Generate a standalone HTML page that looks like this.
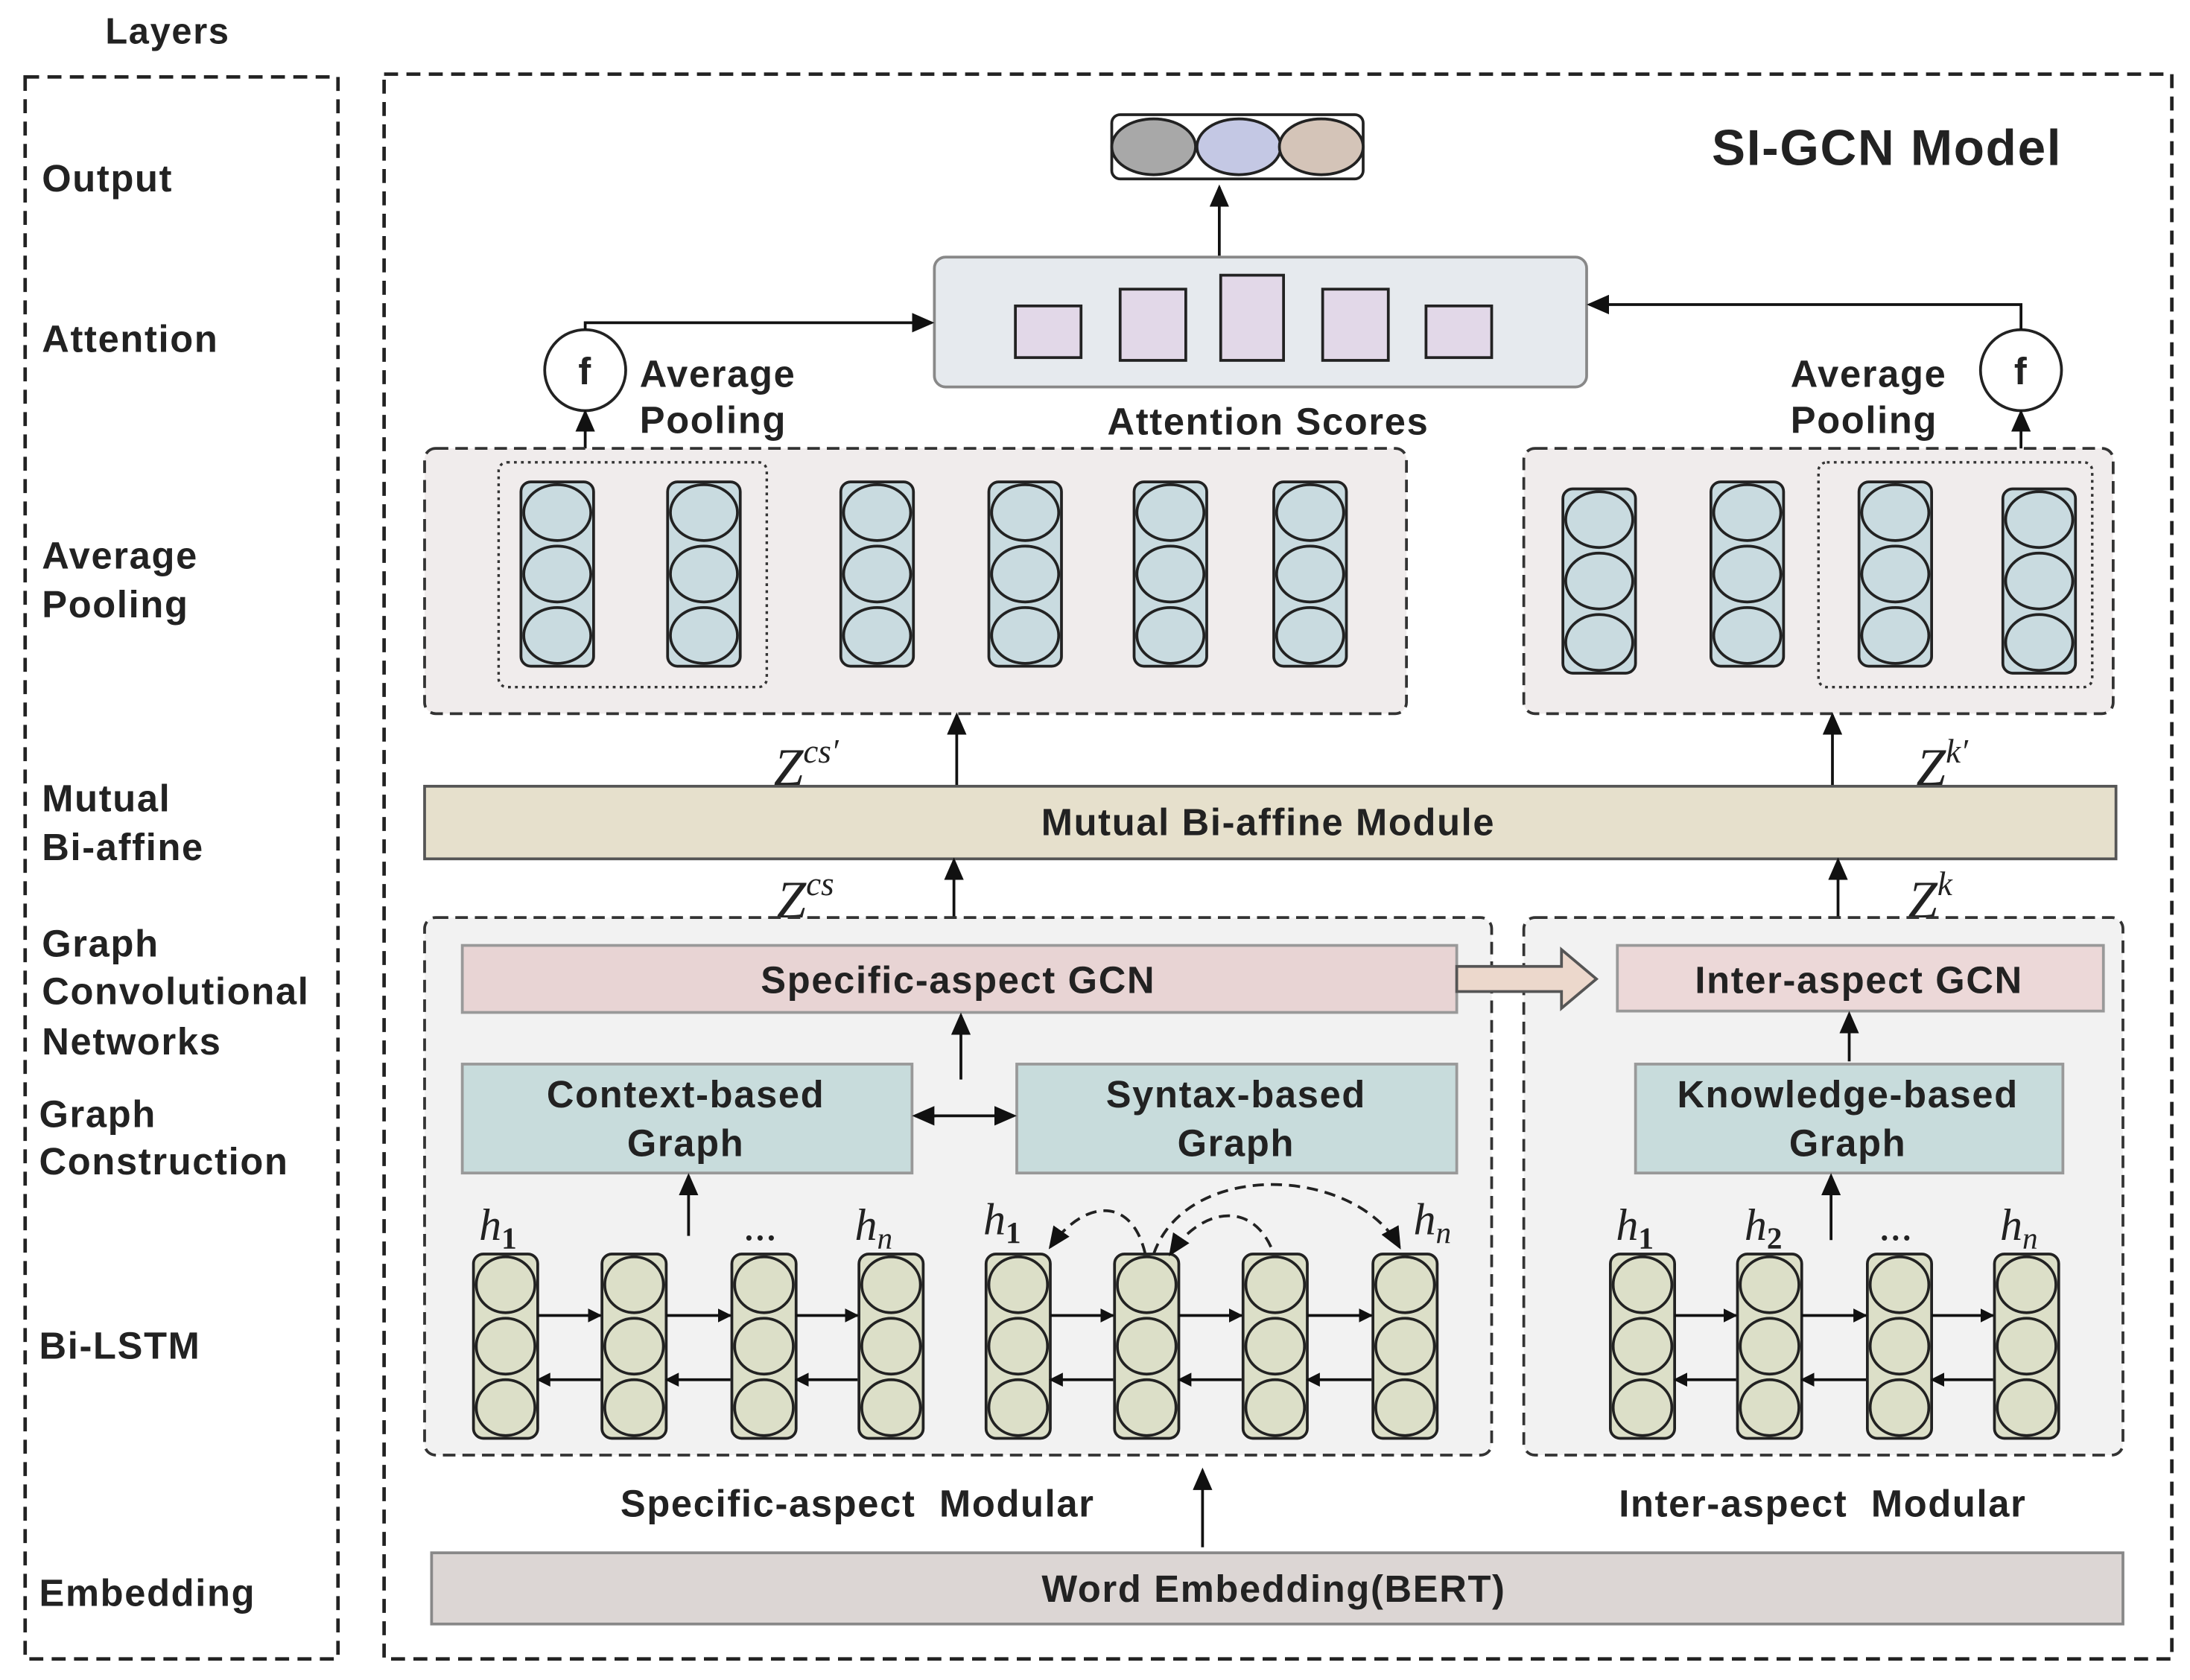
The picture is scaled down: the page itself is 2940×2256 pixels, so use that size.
<!DOCTYPE html>
<html><head><meta charset="utf-8">
<style>
html,body{margin:0;padding:0;background:#fff;}
svg{display:block;}
text{font-family:"Liberation Sans","Noto Sans CJK SC",sans-serif;font-weight:bold;fill:#222;letter-spacing:0.9px;}
.it, g.it text{font-family:"Liberation Serif",serif;font-style:italic;font-weight:normal;letter-spacing:0;}
</style></head><body>
<svg width="2940" height="2256" viewBox="0 0 1568 1203" xmlns="http://www.w3.org/2000/svg">
<defs>
<marker id="ah" markerWidth="10" markerHeight="10" refX="9" refY="5" orient="auto" markerUnits="userSpaceOnUse">
<path d="M0,0 L10,5 L0,10 z" fill="#111"/></marker>
<marker id="ah2" markerWidth="16" markerHeight="14" refX="14" refY="7" orient="auto" markerUnits="userSpaceOnUse">
<path d="M0,0 L16,7 L0,14 z" fill="#111"/></marker>
<g id="pc">
<rect x="-26" y="0" width="52" height="132" rx="7" fill="#c9dbe0" stroke="#222" stroke-width="2"/>
<ellipse cx="0" cy="22" rx="24" ry="20" fill="#c9dbe0" stroke="#222" stroke-width="2"/>
<ellipse cx="0" cy="66" rx="24" ry="20" fill="#c9dbe0" stroke="#222" stroke-width="2"/>
<ellipse cx="0" cy="110" rx="24" ry="20" fill="#c9dbe0" stroke="#222" stroke-width="2"/>
</g>
<g id="lc">
<rect x="-23" y="0" width="46" height="132" rx="7" fill="#dcdfc8" stroke="#222" stroke-width="2"/>
<ellipse cx="0" cy="22" rx="21" ry="20" fill="#dcdfc8" stroke="#222" stroke-width="2"/>
<ellipse cx="0" cy="66" rx="21" ry="20" fill="#dcdfc8" stroke="#222" stroke-width="2"/>
<ellipse cx="0" cy="110" rx="21" ry="20" fill="#dcdfc8" stroke="#222" stroke-width="2"/>
</g>
</defs>

<text x="120" y="31" font-size="26" text-anchor="middle">Layers</text>
<rect x="18" y="55" width="224" height="1133" fill="none" stroke="#222" stroke-width="2.5" stroke-dasharray="10,6"/>
<rect x="275" y="53" width="1280" height="1135" fill="none" stroke="#222" stroke-width="2.5" stroke-dasharray="10,6"/>
<g font-size="27">
<text x="30" y="137">Output</text>
<text x="30" y="252">Attention</text>
<text x="30" y="407">Average</text><text x="30" y="442">Pooling</text>
<text x="30" y="581">Mutual</text><text x="30" y="616">Bi-affine</text>
<text x="30" y="685">Graph</text><text x="30" y="719">Convolutional</text><text x="30" y="755">Networks</text>
<text x="28" y="807">Graph</text><text x="28" y="841">Construction</text>
<text x="28" y="973">Bi-LSTM</text>
<text x="28" y="1150">Embedding</text>
</g>
<text x="1351" y="118" font-size="36" text-anchor="middle">SI-GCN Model</text>

<rect x="796" y="82" width="180" height="46" rx="6" fill="#fff" stroke="#222" stroke-width="2"/>
<ellipse cx="826" cy="105" rx="30" ry="20" fill="#a8a8a8" stroke="#222" stroke-width="2"/>
<ellipse cx="887" cy="105" rx="30" ry="20" fill="#c4c8e4" stroke="#222" stroke-width="2"/>
<ellipse cx="946" cy="105" rx="30" ry="20" fill="#d4c4b8" stroke="#222" stroke-width="2"/>
<line x1="873" y1="183" x2="873" y2="134" stroke="#111" stroke-width="2" marker-end="url(#ah2)"/>

<rect x="669" y="184" width="467" height="93" rx="8" fill="#e6eaee" stroke="#888" stroke-width="2"/>
<g fill="#e2d8e8" stroke="#222" stroke-width="2">
<rect x="727" y="219" width="47" height="37"/><rect x="802" y="207" width="47" height="51"/>
<rect x="874" y="197" width="45" height="61"/><rect x="947" y="207" width="47" height="51"/>
<rect x="1021" y="219" width="47" height="37"/></g>
<text x="908" y="311" font-size="27" text-anchor="middle">Attention Scores</text>

<circle cx="419" cy="265" r="29" fill="#fff" stroke="#222" stroke-width="2"/>
<text x="419" y="275" font-size="27" text-anchor="middle">f</text>
<circle cx="1447" cy="265" r="29" fill="#fff" stroke="#222" stroke-width="2"/>
<text x="1447" y="275" font-size="27" text-anchor="middle">f</text>
<polyline points="419,236 419,231 667,231" fill="none" stroke="#111" stroke-width="2" marker-end="url(#ah2)"/>
<polyline points="1447,236 1447,218 1138,218" fill="none" stroke="#111" stroke-width="2" marker-end="url(#ah2)"/>
<line x1="419" y1="331" x2="419" y2="295" stroke="#111" stroke-width="2" marker-end="url(#ah2)"/>
<line x1="1447" y1="331" x2="1447" y2="295" stroke="#111" stroke-width="2" marker-end="url(#ah2)"/>
<text x="458" y="277" font-size="27">Average</text><text x="458" y="310" font-size="27">Pooling</text>
<text x="1282" y="277" font-size="27">Average</text><text x="1282" y="310" font-size="27">Pooling</text>

<rect x="304" y="321" width="703" height="190" rx="8" fill="#f0ecec" stroke="#333" stroke-width="2" stroke-dasharray="9,5"/>
<rect x="357" y="331" width="192" height="161" rx="6" fill="none" stroke="#333" stroke-width="1.8" stroke-dasharray="2,3"/>
<use href="#pc" x="399" y="345"/><use href="#pc" x="504" y="345"/><use href="#pc" x="628" y="345"/>
<use href="#pc" x="734" y="345"/><use href="#pc" x="838" y="345"/><use href="#pc" x="938" y="345"/>
<rect x="1091" y="321" width="422" height="190" rx="8" fill="#f0ecec" stroke="#333" stroke-width="2" stroke-dasharray="9,5"/>
<rect x="1302" y="331" width="196" height="161" rx="6" fill="none" stroke="#333" stroke-width="1.8" stroke-dasharray="2,3"/>
<use href="#pc" x="1145" y="350"/><use href="#pc" x="1251" y="345"/><use href="#pc" x="1357" y="345"/><use href="#pc" x="1460" y="350"/>

<line x1="685" y1="562" x2="685" y2="512" stroke="#111" stroke-width="2" marker-end="url(#ah2)"/>
<line x1="1312" y1="562" x2="1312" y2="512" stroke="#111" stroke-width="2" marker-end="url(#ah2)"/>
<text x="554" y="562" font-size="38" class="it">Z<tspan font-size="24" dy="-16">cs′</tspan></text>
<text x="1372" y="562" font-size="38" class="it">Z<tspan font-size="24" dy="-16">k′</tspan></text>

<rect x="304" y="563" width="1211" height="52" fill="#e6e0cc" stroke="#555" stroke-width="2"/>
<text x="908" y="598" font-size="27" text-anchor="middle">Mutual Bi-affine Module</text>

<line x1="683" y1="657" x2="683" y2="616" stroke="#111" stroke-width="2" marker-end="url(#ah2)"/>
<line x1="1316" y1="657" x2="1316" y2="616" stroke="#111" stroke-width="2" marker-end="url(#ah2)"/>
<text x="556" y="657" font-size="38" class="it">Z<tspan font-size="24" dy="-16">cs</tspan></text>
<text x="1366" y="657" font-size="38" class="it">Z<tspan font-size="24" dy="-16">k</tspan></text>

<rect x="304" y="657" width="764" height="385" rx="8" fill="#f2f2f2" stroke="#333" stroke-width="2" stroke-dasharray="9,5"/>
<rect x="1091" y="657" width="429" height="385" rx="8" fill="#f2f2f2" stroke="#333" stroke-width="2" stroke-dasharray="9,5"/>
<rect x="331" y="677" width="712" height="48" fill="#e8d4d4" stroke="#999" stroke-width="2"/>
<text x="686" y="711" font-size="27" text-anchor="middle">Specific-aspect GCN</text>
<rect x="1158" y="677" width="348" height="47" fill="#ecd8d8" stroke="#999" stroke-width="2"/>
<text x="1331" y="711" font-size="27" text-anchor="middle">Inter-aspect GCN</text>
<path d="M1043,692 L1118,692 L1118,680 L1143,701 L1118,722 L1118,710 L1043,710 z" fill="#ecd8cc" stroke="#555" stroke-width="2"/>

<line x1="688" y1="773" x2="688" y2="727" stroke="#111" stroke-width="2" marker-end="url(#ah2)"/>
<line x1="1324" y1="760" x2="1324" y2="726" stroke="#111" stroke-width="2" marker-end="url(#ah2)"/>

<rect x="331" y="762" width="322" height="78" fill="#c8dcdc" stroke="#999" stroke-width="2"/>
<text x="491" y="793" font-size="27" text-anchor="middle">Context-based</text><text x="491" y="828" font-size="27" text-anchor="middle">Graph</text>
<rect x="728" y="762" width="315" height="78" fill="#c8dcdc" stroke="#999" stroke-width="2"/>
<text x="885" y="793" font-size="27" text-anchor="middle">Syntax-based</text><text x="885" y="828" font-size="27" text-anchor="middle">Graph</text>
<rect x="1171" y="762" width="306" height="78" fill="#c8dcdc" stroke="#999" stroke-width="2"/>
<text x="1323" y="793" font-size="27" text-anchor="middle">Knowledge-based</text><text x="1323" y="828" font-size="27" text-anchor="middle">Graph</text>
<line x1="670" y1="799" x2="655" y2="799" stroke="#111" stroke-width="2" marker-end="url(#ah2)"/>
<line x1="660" y1="799" x2="726" y2="799" stroke="#111" stroke-width="2" marker-end="url(#ah2)"/>
<line x1="493" y1="885" x2="493" y2="842" stroke="#111" stroke-width="2" marker-end="url(#ah2)"/>
<line x1="1311" y1="888" x2="1311" y2="842" stroke="#111" stroke-width="2" marker-end="url(#ah2)"/>

<use href="#lc" x="362" y="898"/><use href="#lc" x="454" y="898"/><use href="#lc" x="547" y="898"/><use href="#lc" x="638" y="898"/>
<use href="#lc" x="729" y="898"/><use href="#lc" x="821" y="898"/><use href="#lc" x="913" y="898"/><use href="#lc" x="1006" y="898"/>
<use href="#lc" x="1176" y="898"/><use href="#lc" x="1267" y="898"/><use href="#lc" x="1360" y="898"/><use href="#lc" x="1451" y="898"/>
<g stroke="#111" stroke-width="2">
<line x1="385" y1="942" x2="430" y2="942" marker-end="url(#ah)"/><line x1="477" y1="942" x2="523" y2="942" marker-end="url(#ah)"/><line x1="570" y1="942" x2="614" y2="942" marker-end="url(#ah)"/>
<line x1="430" y1="988" x2="385" y2="988" marker-end="url(#ah)"/><line x1="523" y1="988" x2="477" y2="988" marker-end="url(#ah)"/><line x1="614" y1="988" x2="570" y2="988" marker-end="url(#ah)"/>
<line x1="752" y1="942" x2="797" y2="942" marker-end="url(#ah)"/><line x1="844" y1="942" x2="889" y2="942" marker-end="url(#ah)"/><line x1="936" y1="942" x2="982" y2="942" marker-end="url(#ah)"/>
<line x1="797" y1="988" x2="752" y2="988" marker-end="url(#ah)"/><line x1="889" y1="988" x2="844" y2="988" marker-end="url(#ah)"/><line x1="982" y1="988" x2="936" y2="988" marker-end="url(#ah)"/>
<line x1="1199" y1="942" x2="1243" y2="942" marker-end="url(#ah)"/><line x1="1290" y1="942" x2="1336" y2="942" marker-end="url(#ah)"/><line x1="1383" y1="942" x2="1427" y2="942" marker-end="url(#ah)"/>
<line x1="1243" y1="988" x2="1199" y2="988" marker-end="url(#ah)"/><line x1="1336" y1="988" x2="1290" y2="988" marker-end="url(#ah)"/><line x1="1427" y1="988" x2="1383" y2="988" marker-end="url(#ah)"/>
</g>
<g fill="none" stroke="#222" stroke-width="2" stroke-dasharray="8,5">
<path d="M820,898 C810,855 775,860 752,893" marker-end="url(#ah2)"/>
<path d="M910,893 C895,860 860,865 838,898" marker-end="url(#ah2)"/>
<path d="M826,898 C850,830 970,835 1002,893" marker-end="url(#ah2)"/>
</g>
<g font-size="32" class="it">
<text x="343" y="888">h<tspan font-size="22" font-weight="bold" font-style="normal" dy="6">1</tspan></text>
<text x="533" y="888" font-family="Liberation Sans" font-style="normal" font-weight="bold">...</text>
<text x="612" y="888">h<tspan font-size="22" dy="6">n</tspan></text>
<text x="704" y="884">h<tspan font-size="22" font-weight="bold" font-style="normal" dy="6">1</tspan></text>
<text x="1012" y="884">h<tspan font-size="22" dy="6">n</tspan></text>
<text x="1157" y="888">h<tspan font-size="22" font-weight="bold" font-style="normal" dy="6">1</tspan></text>
<text x="1249" y="888">h<tspan font-size="22" font-weight="bold" font-style="normal" dy="6">2</tspan></text>
<text x="1346" y="888" font-family="Liberation Sans" font-style="normal" font-weight="bold">...</text>
<text x="1432" y="888">h<tspan font-size="22" dy="6">n</tspan></text>
</g>

<text x="614" y="1086" font-size="27" text-anchor="middle" xml:space="preserve">Specific-aspect  Modular</text>
<text x="1305" y="1086" font-size="27" text-anchor="middle" xml:space="preserve">Inter-aspect  Modular</text>
<line x1="861" y1="1108" x2="861" y2="1053" stroke="#111" stroke-width="2" marker-end="url(#ah2)"/>
<rect x="309" y="1112" width="1211" height="51" fill="#dcd6d4" stroke="#888" stroke-width="2"/>
<text x="912" y="1147" font-size="27" text-anchor="middle">Word Embedding(BERT)</text>
</svg>
</body></html>
